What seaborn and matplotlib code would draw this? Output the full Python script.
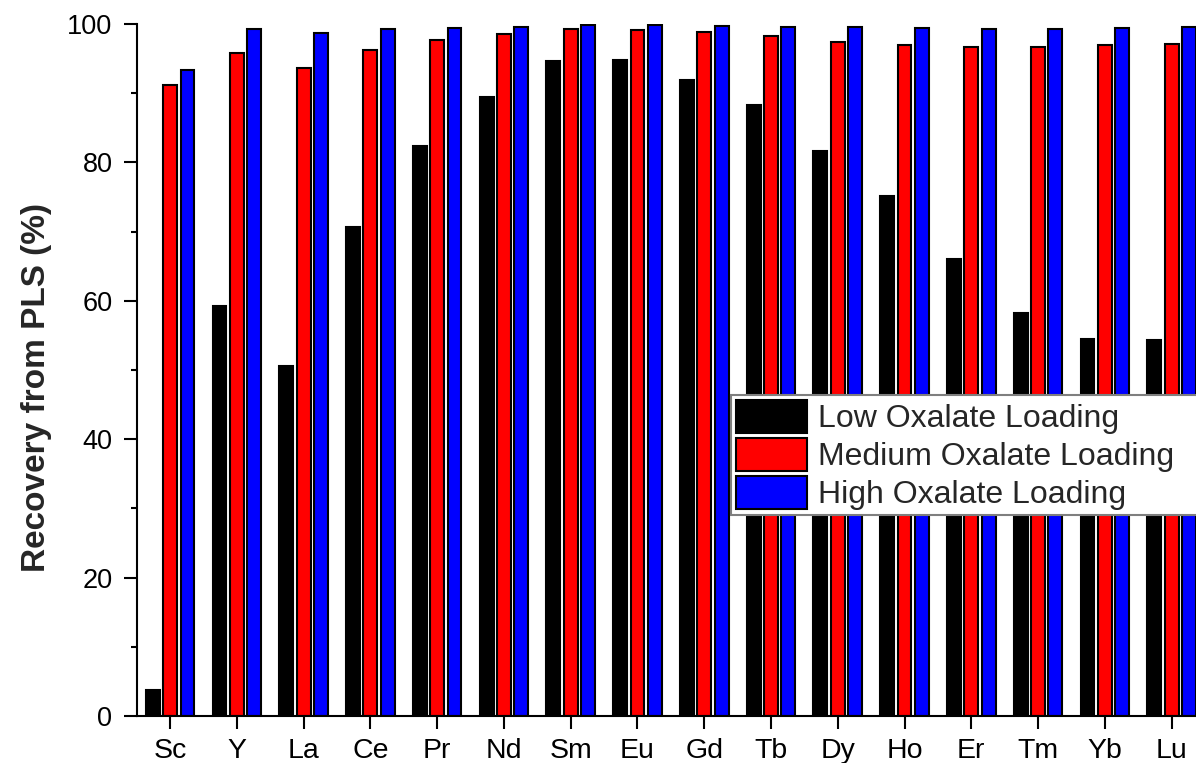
import matplotlib
matplotlib.use("Agg")
import matplotlib.pyplot as plt
from matplotlib.ticker import MultipleLocator
import seaborn as sns
import pandas as pd

elements = ["Sc", "Y", "La", "Ce", "Pr", "Nd", "Sm", "Eu", "Gd", "Tb",
            "Dy", "Ho", "Er", "Tm", "Yb", "Lu"]
low_oxalate = [3.8, 59.3, 50.6, 70.7, 82.3, 89.4, 94.7, 94.8, 91.9, 88.3,
               81.7, 75.1, 66.0, 58.3, 54.5, 54.4]
medium_oxalate = [91.2, 95.8, 93.7, 96.3, 97.7, 98.5, 99.2, 99.1, 98.8, 98.3,
                  97.4, 97.0, 96.6, 96.6, 97.0, 97.1]
high_oxalate = [93.4, 99.2, 98.7, 99.2, 99.4, 99.6, 99.8, 99.8, 99.7, 99.5,
                99.5, 99.4, 99.3, 99.2, 99.4, 99.5]
series_names = ["Low Oxalate Loading", "Medium Oxalate Loading",
                "High Oxalate Loading"]
series_colors = ["#000000", "#FF0000", "#0000FF"]

frames = []
for name, vals in zip(series_names, [low_oxalate, medium_oxalate, high_oxalate]):
    frames.append(pd.DataFrame({"Element": elements, "Recovery": vals,
                                "Loading": name}))
df = pd.concat(frames, ignore_index=True)

sns.set_style("ticks")
plt.rcParams["font.family"] = ["Liberation Sans", "DejaVu Sans"]

fig = plt.figure(figsize=(11.96, 7.63), dpi=100, facecolor="white")
ax = fig.add_axes([0.1143, 0.0616, 0.8932, 0.907])

sns.barplot(data=df, x="Element", y="Recovery", hue="Loading",
            order=elements, hue_order=series_names, palette=series_colors,
            saturation=1, width=0.78, gap=0.2, edgecolor="black",
            linewidth=1.5, ax=ax)

ax.set_xlim(-0.5, 15.5)
ax.set_ylim(0, 100)
ax.yaxis.set_major_locator(MultipleLocator(20))
ax.yaxis.set_minor_locator(MultipleLocator(10))

for side in ("top", "right"):
    ax.spines[side].set_visible(False)
for side in ("left", "bottom"):
    ax.spines[side].set_linewidth(1.5)
    ax.spines[side].set_color("black")

ax.tick_params(axis="both", which="major", direction="out", length=9.5,
               width=1.5, colors="black")
ax.tick_params(axis="y", which="minor", direction="out", length=4.5,
               width=1.5, colors="black")
ax.tick_params(axis="x", pad=6, labelsize=20.5)
ax.tick_params(axis="y", pad=8, labelsize=19.5)

ax.set_xlabel("")
ax.set_ylabel("Recovery from PLS (%)", fontsize=24, fontweight="bold")
ax.yaxis.set_label_coords(-0.079, 0.475)

handles, labels = ax.get_legend_handles_labels()
if ax.get_legend() is not None:
    ax.get_legend().remove()
leg = fig.legend(handles, labels, loc="upper left",
                 bbox_to_anchor=(731 / 1196, 1 - 395 / 763, 0.5, 0.0),
                 mode="expand", fontsize=23, frameon=True, fancybox=False,
                 framealpha=1, edgecolor="#7f7f7f", borderpad=0.15,
                 handlelength=2.22, handleheight=1.2, handletextpad=0.35,
                 labelspacing=0.12, borderaxespad=0)
leg.get_frame().set_linewidth(1.5)

fig.savefig("out.png", dpi=100, facecolor="white")
